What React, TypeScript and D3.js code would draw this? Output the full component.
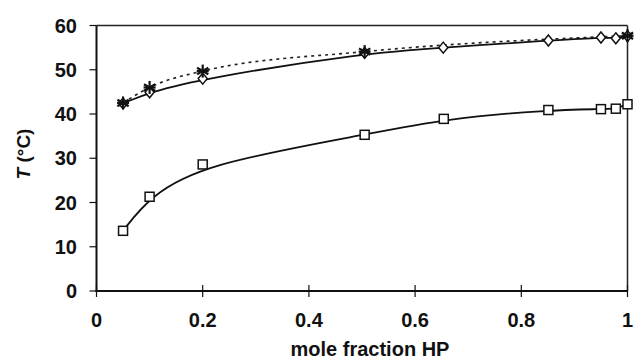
import React from "react";
import * as d3 from "d3";

const starX = [0.05, 0.1, 0.2, 0.505, 1.0];
const starT = [42.5, 46.0, 49.7, 54.1, 57.7];

const diamondX = [0.05, 0.1, 0.2, 0.505, 0.653, 0.851, 0.95, 0.978, 1.0];
const diamondT = [42.4, 44.9, 48.0, 53.8, 55.0, 56.6, 57.3, 57.1, 57.6];

const squareX = [0.05, 0.1, 0.2, 0.505, 0.654, 0.851, 0.95, 0.978, 1.0];
const squareT = [13.6, 21.3, 28.6, 35.3, 38.9, 40.9, 41.1, 41.2, 42.2];

const xTicks = [0, 0.2, 0.4, 0.6, 0.8, 1];
const xTickLabels = ["0", "0.2", "0.4", "0.6", "0.8", "1"];
const yTicks = [0, 10, 20, 30, 40, 50, 60];

const W = 634;
const H = 360;
const left = 96.5;
const right = 627.5;
const top = 25.5;
const bottom = 291;

export default function App() {
  const x = d3.scaleLinear().domain([0, 1]).range([left, right]);
  const y = d3.scaleLinear().domain([0, 60]).range([bottom, top]);

  const pts = (xs: number[], ys: number[]) => xs.map((v, i) => [v, ys[i]] as [number, number]);

  const lineBasis = d3
    .line<[number, number]>()
    .x((d) => x(d[0]))
    .y((d) => y(d[1]))
    .curve(d3.curveBasis);
  const lineMono = d3
    .line<[number, number]>()
    .x((d) => x(d[0]))
    .y((d) => y(d[1]))
    .curve(d3.curveMonotoneX);

  const font = "'Liberation Sans', Arial, sans-serif";

  const star = (cx: number, cy: number, k: number) => {
    const r = 6.5;
    const segs = [0, 60, 120].map((a) => {
      const rad = (a * Math.PI) / 180 + Math.PI / 2;
      return (
        <line
          key={a}
          x1={cx - r * Math.cos(rad)}
          y1={cy - r * Math.sin(rad)}
          x2={cx + r * Math.cos(rad)}
          y2={cy + r * Math.sin(rad)}
          stroke="#111"
          strokeWidth={2.2}
        />
      );
    });
    return (
      <g key={"s" + k}>
        {segs}
        <line x1={cx - 6} y1={cy} x2={cx + 6} y2={cy} stroke="#111" strokeWidth={2.2} />
      </g>
    );
  };

  return (
    <svg width={W} height={H} style={{ position: "absolute", left: 0, top: 0, background: "#fff" }}>
      <rect width={W} height={H} fill="#fff" />
      {/* frame */}
      <line x1={left} y1={top} x2={right} y2={top} stroke="#222" strokeWidth={1.5} />
      <line x1={right} y1={top} x2={right} y2={bottom} stroke="#222" strokeWidth={1.5} />
      <line x1={left} y1={top} x2={left} y2={bottom + 1} stroke="#111" strokeWidth={2} />
      <line x1={left - 1} y1={bottom} x2={right} y2={bottom} stroke="#111" strokeWidth={2} />

      {yTicks.map((t) => (
        <g key={"y" + t}>
          <line x1={left - 7} x2={left} y1={y(t)} y2={y(t)} stroke="#111" strokeWidth={1.2} />
          <text
            x={77}
            y={y(t)}
            dy="0.35em"
            textAnchor="end"
            fontFamily={font}
            fontWeight="bold"
            fontSize={20}
            fill="#111"
          >
            {t}
          </text>
        </g>
      ))}
      {xTicks.map((t, i) => (
        <g key={"x" + t}>
          <line x1={x(t)} x2={x(t)} y1={bottom - 6} y2={bottom + 6} stroke="#111" strokeWidth={1.2} />
          <text
            x={x(t)}
            y={327}
            textAnchor="middle"
            fontFamily={font}
            fontWeight="bold"
            fontSize={20}
            fill="#111"
          >
            {xTickLabels[i]}
          </text>
        </g>
      ))}

      <text
        x={370}
        y={356}
        textAnchor="middle"
        fontFamily={font}
        fontWeight="bold"
        fontSize={20}
        fill="#111"
      >
        mole fraction HP
      </text>
      <text
        transform="translate(30,154) rotate(-90)"
        textAnchor="middle"
        fontFamily={font}
        fontWeight="bold"
        fontSize={19}
        fill="#111"
      >
        <tspan fontStyle="italic">T</tspan> (°C)
      </text>

      {/* lines */}
      <path d={lineMono(pts(starX, starT)) || ""} fill="none" stroke="#222" strokeWidth={1.6} strokeDasharray="3,4" />
      <path d={lineBasis(pts(diamondX, diamondT)) || ""} fill="none" stroke="#111" strokeWidth={1.8} />
      <path d={lineBasis(pts(squareX, squareT)) || ""} fill="none" stroke="#111" strokeWidth={1.8} />

      {/* markers */}
      {squareX.map((v, i) => (
        <rect
          key={"q" + i}
          x={x(v) - 4.5}
          y={y(squareT[i]) - 4.5}
          width={9}
          height={9}
          fill="#fff"
          stroke="#111"
          strokeWidth={1.5}
        />
      ))}
      {diamondX.map((v, i) => {
        const cx = x(v);
        const cy = y(diamondT[i]);
        const r = 5.5;
        return (
          <path
            key={"d" + i}
            d={`M${cx},${cy - r}L${cx + 4.5},${cy}L${cx},${cy + r}L${cx - 4.5},${cy}Z`}
            fill="#fff"
            stroke="#111"
            strokeWidth={1.5}
          />
        );
      })}
      {starX.map((v, i) => star(x(v), y(starT[i]), i))}
    </svg>
  );
}
